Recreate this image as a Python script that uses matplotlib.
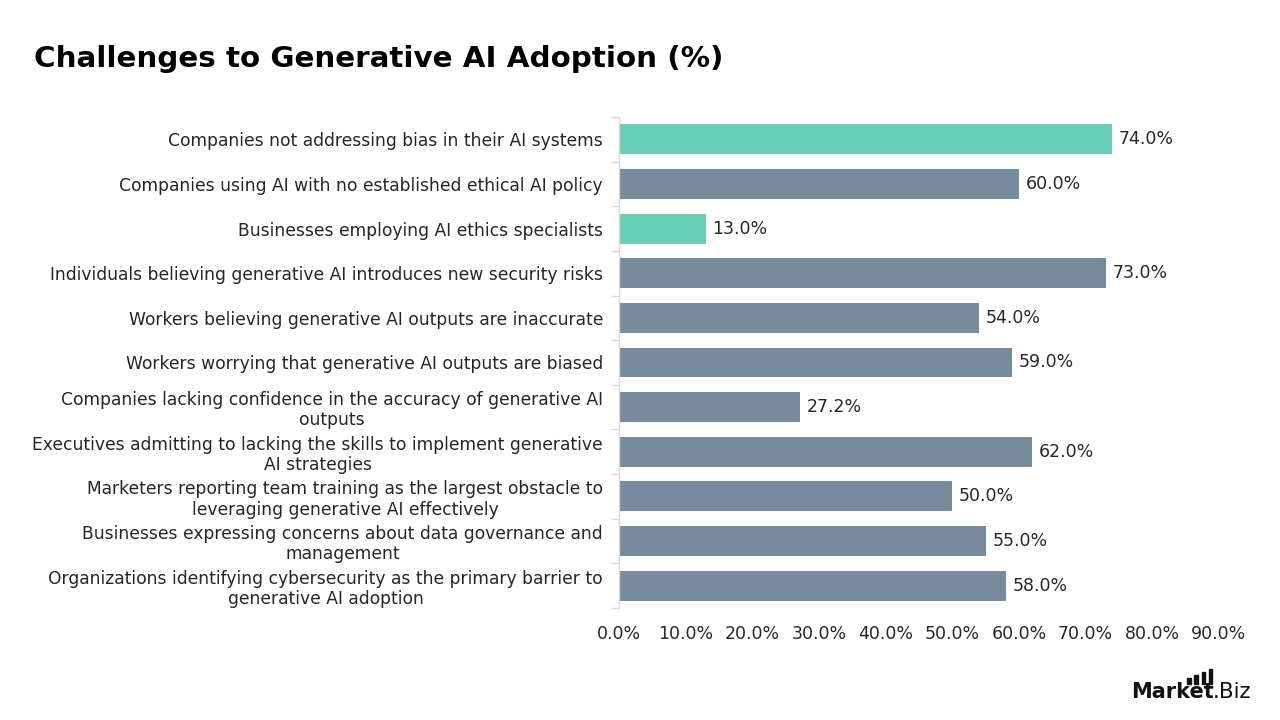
import matplotlib
matplotlib.use("Agg")
import matplotlib.pyplot as plt
from matplotlib.patches import Rectangle

categories = [
    "Companies not addressing bias in their AI systems",
    "Companies using AI with no established ethical AI policy",
    "Businesses employing AI ethics specialists",
    "Individuals believing generative AI introduces new security risks",
    "Workers believing generative AI outputs are inaccurate",
    "Workers worrying that generative AI outputs are biased",
    "Companies lacking confidence in the accuracy of generative AI\noutputs",
    "Executives admitting to lacking the skills to implement generative\nAI strategies",
    "Marketers reporting team training as the largest obstacle to\nleveraging generative AI effectively",
    "Businesses expressing concerns about data governance and\nmanagement",
    "Organizations identifying cybersecurity as the primary barrier to\ngenerative AI adoption",
]
values = [74.0, 60.0, 13.0, 73.0, 54.0, 59.0, 27.2, 62.0, 50.0, 55.0, 58.0]
highlight = [True, False, True, False, False, False, False, False, False, False, False]
xticks = [0, 10, 20, 30, 40, 50, 60, 70, 80, 90]

TEAL = "#6ACDB7"
SLATE = "#778B9F"
TXT = "#262626"

plt.rcParams['font.family'] = ['DejaVu Sans']

fig = plt.figure(figsize=(12.8, 7.2), dpi=100)
ax = fig.add_axes([619/1280, 1 - 608/720, 600/1280, (608 - 117)/720])

ypos = list(range(len(categories)))
colors = [TEAL if h else SLATE for h in highlight]
ax.barh(ypos, values, height=0.67, color=colors, zorder=2)

ax.set_xlim(0, 90)
ax.set_ylim(len(categories) - 0.5, -0.5)

ax.set_xticks(xticks)
ax.set_xticklabels([f"{v:.1f}%" for v in xticks], fontsize=12.5, color=TXT)
ax.tick_params(axis='x', length=0, pad=12)

ax.set_yticks(ypos)
ax.set_yticklabels(categories, fontsize=12.3, color=TXT, multialignment='center',
                   linespacing=1.15)
ax.tick_params(axis='y', which='major', length=0, pad=11.5)
ax.set_yticks([i - 0.5 for i in range(len(categories) + 1)], minor=True)
ax.tick_params(axis='y', which='minor', length=6, color="#D9D9D9", width=1)

for s in ['top', 'right', 'bottom']:
    ax.spines[s].set_visible(False)
ax.spines['left'].set_color("#D9D9D9")
ax.spines['left'].set_linewidth(1)

for y, v in zip(ypos, values):
    ax.text(v + 1.0, y, f"{v:.1f}%", va='center', ha='left', fontsize=12.5, color=TXT)

fig.text(34/1280, 1 - 59/720, "Challenges to Generative AI Adoption (%)",
         fontsize=21.2, fontweight='bold', color='black', va='center', ha='left')

# watermark
fig.text(1131/1280, 1 - 692/720, "Market", fontsize=15, fontweight='bold',
         color='#111111', va='center', ha='left')
fig.text(1213/1280, 1 - 692/720, ".Biz", fontsize=15.5, color='#111111',
         va='center', ha='left')
for i, h in enumerate([6, 9, 12, 15]):
    fig.patches.append(Rectangle(((1187 + i * 7.3) / 1280, 1 - 684/720), 3.5/1280, h/720,
                                 transform=fig.transFigure, color='#111111'))

fig.savefig("out.png", dpi=100)
